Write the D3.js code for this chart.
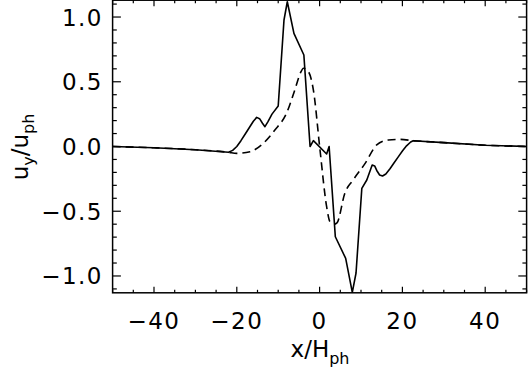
<!DOCTYPE html>
<html>
<head>
<meta charset="utf-8">
<script src="https://cdn.jsdelivr.net/npm/d3@7"></script>
<style>
  body { margin: 0; background: #fff; }
  svg text { font-family: "DejaVu Sans", sans-serif; fill: #000; }
</style>
</head>
<body>
<svg width="528" height="370"></svg>
<script>
// solid line (x/H_ph, u_y/u_ph)
var solidX = [-50, -40, -30, -22, -21, -20, -19, -18, -17, -16, -15.2, -14.5, -13.8, -13.2, -12.5, -11.5, -10, -8.6, -7.8, -6.2, -3.8, -2.3, -1.5, 1.7, 2.3, 3.8, 6.3, 7.9, 8.8, 10.2, 11.4, 12.7, 13.3, 13.8, 14.5, 15.2, 16, 17, 18, 19, 20, 21, 22, 22.6, 30, 40, 50];
var solidY = [0, -0.01, -0.025, -0.045, -0.03, 0.0, 0.045, 0.095, 0.145, 0.195, 0.225, 0.215, 0.18, 0.153, 0.19, 0.25, 0.313, 0.977, 1.118, 0.874, 0.707, 0, 0.045, -0.058, 0, -0.697, -0.864, -1.126, -0.977, -0.323, -0.259, -0.143, -0.15, -0.185, -0.22, -0.228, -0.212, -0.172, -0.125, -0.08, -0.035, 0.005, 0.035, 0.045, 0.03, 0.01, 0];

// dashed line
var dashX = [-50, -40, -30, -22, -20, -16.8, -13.6, -10.8, -8, -6, -4.6, -3.9, -2.7, -1.5, 0.1, 1.7, 2.5, 3.5, 4.2, 6.1, 8.1, 11, 13.8, 16.6, 19.4, 22.6, 30, 40, 50];
var dashY = [0, -0.01, -0.025, -0.045, -0.053, -0.04, 0.025, 0.127, 0.256, 0.436, 0.57, 0.604, 0.578, 0.436, -0.027, -0.465, -0.58, -0.6, -0.59, -0.36, -0.259, -0.13, 0.012, 0.05, 0.055, 0.045, 0.03, 0.01, 0];

var xMajor = [-40, -20, 0, 20, 40];
var yMajor = [-1.0, -0.5, 0.0, 0.5, 1.0];

var svg = d3.select("svg");

var x = d3.scaleLinear().domain([-50, 50]).range([112.6, 526.6]),
    y = d3.scaleLinear().domain([-1.13, 1.13]).range([292.8, 0.2]);

function fmtX(d) { return (d < 0 ? "\u2212" : "") + Math.abs(d); }
function fmtY(d) { return (d < 0 ? "\u2212" : "") + Math.abs(d).toFixed(1); }

var xMinor = d3.range(-50, 51, 5).filter(function(d) { return xMajor.indexOf(d) < 0; });
var yMinor = d3.range(-11, 12).map(function(d) { return d / 10; })
    .filter(function(d) { return d * 2 !== Math.round(d * 2); });

var g = svg.append("g");

// lines
var solid = solidX.map(function(d, i) { return [d, solidY[i]]; });
var dashed = dashX.map(function(d, i) { return [d, dashY[i]]; });

var line = d3.line()
    .x(function(d) { return x(d[0]); })
    .y(function(d) { return y(d[1]); });

g.append("path")
    .datum(dashed)
    .attr("fill", "none")
    .attr("stroke", "#000")
    .attr("stroke-width", 1.6)
    .attr("stroke-dasharray", "8,5")
    .attr("d", line.curve(d3.curveMonotoneX));

g.append("path")
    .datum(solid)
    .attr("fill", "none")
    .attr("stroke", "#000")
    .attr("stroke-width", 1.6)
    .attr("stroke-linejoin", "round")
    .attr("d", line.curve(d3.curveLinear));

// frame
var x0 = x.range()[0], x1 = x.range()[1], y0 = y.range()[0], y1 = y.range()[1];
g.append("rect")
    .attr("x", x0).attr("y", y1)
    .attr("width", x1 - x0).attr("height", y0 - y1)
    .attr("fill", "none").attr("stroke", "#000").attr("stroke-width", 1.5);

// ticks, pointing inward, mirrored on all four sides
var ticks = g.append("g").attr("stroke", "#000").attr("stroke-width", 1.2);
function xTicks(vals, len) {
  vals.forEach(function(v) {
    ticks.append("line").attr("x1", x(v)).attr("x2", x(v)).attr("y1", y0).attr("y2", y0 - len);
    ticks.append("line").attr("x1", x(v)).attr("x2", x(v)).attr("y1", y1).attr("y2", y1 + len);
  });
}
function yTicks(vals, len) {
  vals.forEach(function(v) {
    ticks.append("line").attr("y1", y(v)).attr("y2", y(v)).attr("x1", x0).attr("x2", x0 + len);
    ticks.append("line").attr("y1", y(v)).attr("y2", y(v)).attr("x1", x1).attr("x2", x1 - len);
  });
}
xTicks(xMajor, 6);
xTicks(xMinor, 3);
yTicks(yMajor, 8.3);
yTicks(yMinor, 4.2);

// tick labels
g.selectAll(".xlab")
  .data(xMajor)
  .enter().append("text")
    .attr("x", function(d) { return x(d); })
    .attr("y", 329)
    .attr("text-anchor", "middle")
    .attr("font-size", 23)
    .attr("letter-spacing", 1.5)
    .text(fmtX);

g.selectAll(".ylab")
  .data(yMajor)
  .enter().append("text")
    .attr("x", 103)
    .attr("y", function(d) { return y(d) + 8.5; })
    .attr("text-anchor", "end")
    .attr("font-size", 23)
    .attr("letter-spacing", 1.5)
    .text(fmtY);

// axis titles
var xt = g.append("text")
    .attr("x", 320).attr("y", 357)
    .attr("text-anchor", "middle")
    .attr("font-size", 23);
xt.append("tspan").text("x/H");
xt.append("tspan").attr("dy", 7).attr("font-size", 16).text("ph");

var yt = g.append("text")
    .attr("transform", "translate(28,147) rotate(-90)")
    .attr("text-anchor", "middle")
    .attr("font-size", 23);
yt.append("tspan").text("u");
yt.append("tspan").attr("dy", 6).attr("font-size", 16).text("y");
yt.append("tspan").attr("dy", -6).text("/u");
yt.append("tspan").attr("dy", 6).attr("font-size", 16).text("ph");
</script>
</body>
</html>
